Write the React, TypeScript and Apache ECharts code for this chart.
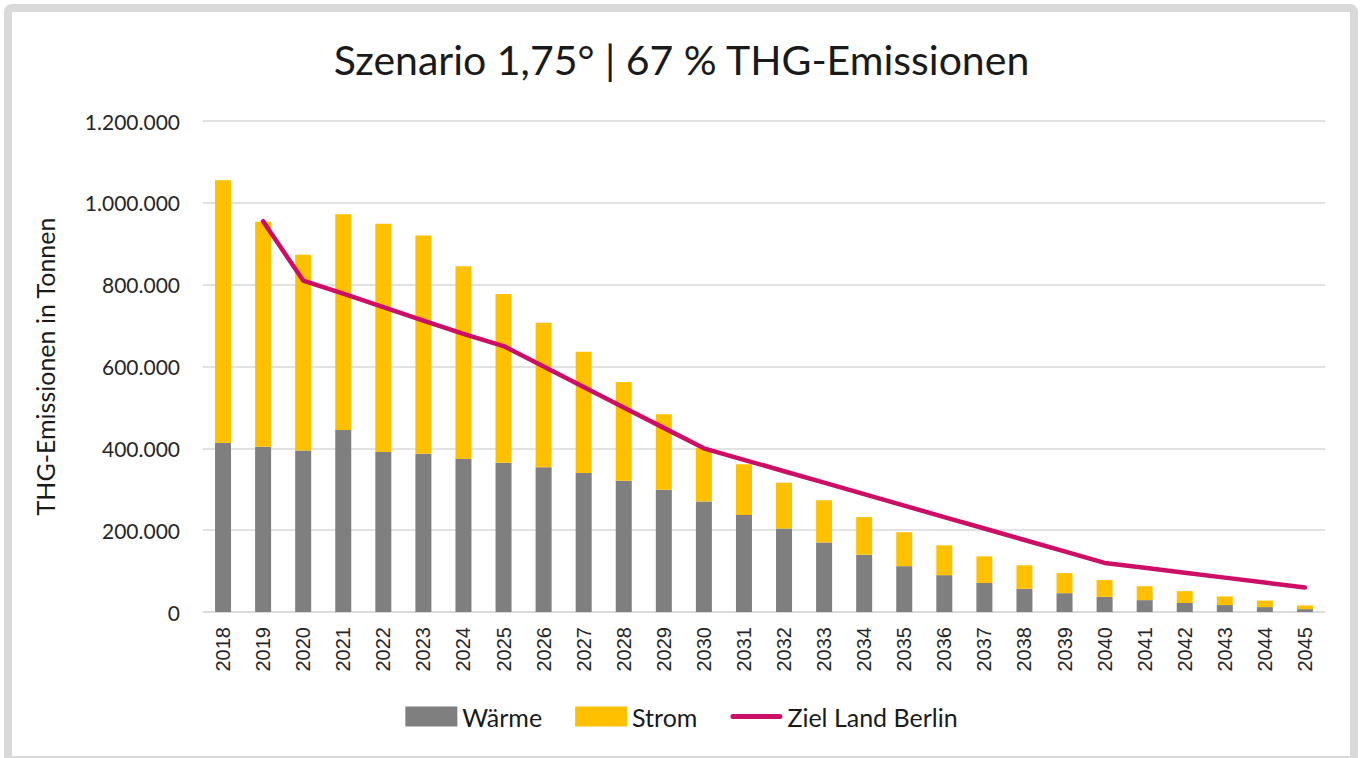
import React, { useEffect, useRef } from "react";
import * as echarts from "echarts";

const years = [
  "2018", "2019", "2020", "2021", "2022", "2023", "2024", "2025", "2026", "2027",
  "2028", "2029", "2030", "2031", "2032", "2033", "2034", "2035", "2036", "2037",
  "2038", "2039", "2040", "2041", "2042", "2043", "2044", "2045",
];

const waerme = [
  413000, 404000, 395000, 445000, 391000, 387000, 374000, 365000, 354000, 340000,
  321000, 299000, 270000, 237000, 204000, 170000, 140000, 112000, 90000, 71000,
  57000, 46000, 37000, 29000, 22000, 17000, 12000, 7000,
];

const strom = [
  642000, 550000, 478000, 527000, 558000, 533000, 471000, 412000, 353000, 296000,
  241000, 184000, 131000, 124000, 112000, 103000, 92000, 83000, 73000, 65000,
  57000, 49000, 41000, 34000, 29000, 21000, 16000, 9000,
];

const ziel = [
  null, 955000, 810000, 778000, 745000, 712000, 680000, 650000, 600000, 550000,
  500000, 450000, 400000, 372000, 344000, 316000, 288000, 260000, 232000, 204000,
  176000, 148000, 120000, 108000, 96000, 84000, 72000, 60000,
];

const FONT = "Lato, 'Noto Sans', sans-serif";
const ARIAL = "Liberation Sans";

const LINE_ICON =
  "path://M0,0L0.01,0L0,0.01Z M52,20L51.99,20L52,19.99Z M2.5,7.5L49.5,7.5A2.5,2.5 0 0 1 49.5,12.5L2.5,12.5A2.5,2.5 0 0 1 2.5,7.5Z";

function fmt(v: number): string {
  const s = String(Math.round(v));
  return s.replace(/\B(?=(\d{3})+(?!\d))/g, ".");
}

export default function App() {
  const ref = useRef<HTMLDivElement>(null);

  useEffect(() => {
    if (!ref.current) return;
    const chart = echarts.init(ref.current, null, { renderer: "svg" });
    chart.setOption({
      animation: false,
      backgroundColor: "#ffffff",
      textStyle: { fontFamily: FONT },
      title: {
        text: "Szenario 1,75° | 67 % THG-Emissionen",
        left: "center",
        top: 34,
        textStyle: { fontFamily: FONT, fontSize: 41, fontWeight: "normal", color: "#1a1a1a" },
      },
      legend: {
        top: 699,
        left: "center",
        itemWidth: 52,
        itemHeight: 20,
        itemGap: 33,
        textStyle: { fontFamily: FONT, fontSize: 25, color: "#1a1a1a" },
        data: [
          { name: "Wärme", icon: "rect" },
          { name: "Strom", icon: "rect" },
          { name: "Ziel Land Berlin", icon: LINE_ICON, itemStyle: { color: "#cc0e66" } },
        ],
      },
      grid: { left: 203, right: 38, top: 121, bottom: 146 },
      xAxis: {
        type: "category",
        data: years,
        axisLine: { lineStyle: { color: "#d9d9d9", width: 1.5 } },
        axisTick: { show: false },
        axisLabel: {
          rotate: 90,
          fontSize: 20,
          color: "#262626",
          margin: 15,
          fontFamily: ARIAL,
          hideOverlap: false,
          interval: 0,
        },
      },
      yAxis: {
        type: "value",
        min: 0,
        max: 1200000,
        interval: 200000,
        name: "THG-Emissionen in Tonnen",
        nameLocation: "middle",
        nameGap: 146,
        nameTextStyle: { fontSize: 25, color: "#1a1a1a", fontFamily: FONT },
        axisLine: { show: false },
        axisTick: { show: false },
        axisLabel: { fontSize: 21, color: "#262626", margin: 23, formatter: (v: number) => fmt(v), fontFamily: FONT },
        splitLine: { lineStyle: { color: "#d9d9d9", width: 1.5 } },
      },
      series: [
        {
          name: "Wärme",
          type: "bar",
          stack: "total",
          data: waerme,
          barWidth: 16,
          itemStyle: { color: "#7f7f7f" },
        },
        {
          name: "Strom",
          type: "bar",
          stack: "total",
          data: strom,
          barWidth: 16,
          itemStyle: { color: "#ffc000" },
        },
        {
          name: "Ziel Land Berlin",
          type: "line",
          data: ziel,
          symbol: "none",
          lineStyle: { color: "#cc0e66", width: 4.5, cap: "round", join: "round" },
          itemStyle: { color: "#cc0e66" },
          connectNulls: false,
        },
      ],
    });
    return () => chart.dispose();
  }, []);

  return (
    <div style={{ position: "fixed", left: 0, top: 0, width: 1363, height: 758, background: "#fff", overflow: "hidden" }}>
      <div ref={ref} style={{ position: "absolute", left: 0, top: 0, width: 1363, height: 758 }} />
      <div
        style={{
          position: "absolute",
          left: 4,
          top: 4,
          width: 1354,
          height: 760,
          boxSizing: "border-box",
          border: "8px solid #d9d9d9",
          borderRadius: 8,
          pointerEvents: "none",
        }}
      />
    </div>
  );
}
